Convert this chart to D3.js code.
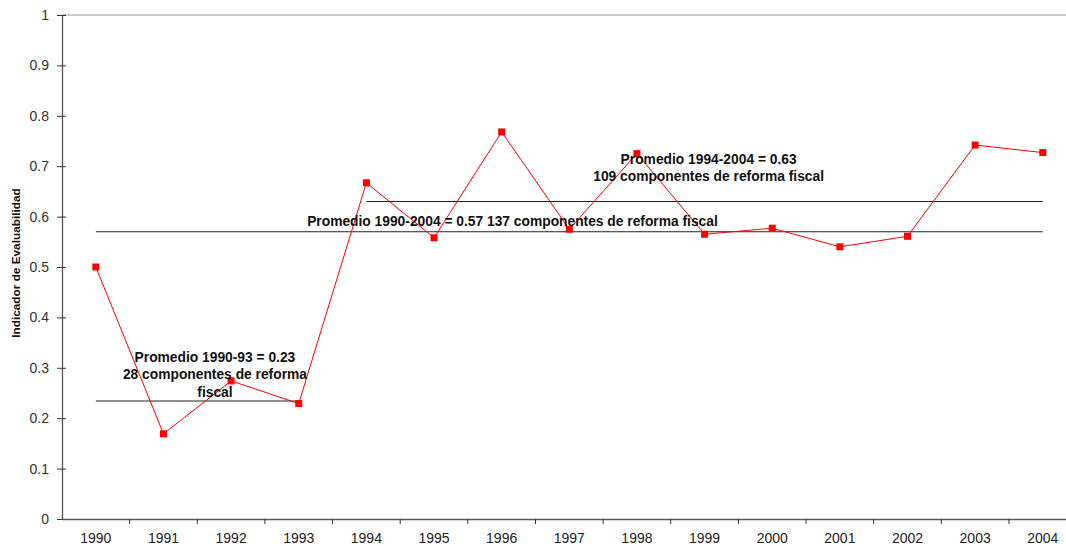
<!DOCTYPE html>
<html>
<head>
<meta charset="utf-8">
<script src="https://cdn.jsdelivr.net/npm/d3@7"></script>
<style>
  html, body { margin: 0; padding: 0; background: #fff; }
  svg { display: block; font-family: "Liberation Sans", Arial, sans-serif; }
</style>
</head>
<body>
<svg id="chart" width="1066" height="546"></svg>
<script>
// Indicador de evaluabilidad por año
const years = ["1990","1991","1992","1993","1994","1995","1996","1997","1998","1999","2000","2001","2002","2003","2004"];
const values = [0.50, 0.169, 0.274, 0.229, 0.667, 0.558, 0.768, 0.575, 0.725, 0.565, 0.577, 0.540, 0.561, 0.742, 0.727];
const yTicks = [0, 0.1, 0.2, 0.3, 0.4, 0.5, 0.6, 0.7, 0.8, 0.9, 1];

// Promedios por periodo
const averages = [
  { from: "1990", to: "1993", value: 0.234, lines: ["Promedio 1990-93 = 0.23", "28 componentes de reforma", "fiscal"], labelAt: 0.587, labelY: 0.312 },
  { from: "1990", to: "2004", value: 0.57, lines: ["Promedio 1990-2004 = 0.57 137 componentes de reforma fiscal"], labelAt: 0.44, labelY: 0.582 },
  { from: "1994", to: "2004", value: 0.63, lines: ["Promedio 1994-2004 = 0.63", "109 componentes de reforma fiscal"], labelAt: 0.506, labelY: 0.705 }
];

const svg = d3.select("#chart");
const plotLeft = 62, plotTop = 15, plotBottom = 519, band = 67.64;

const x = d3.scaleBand().domain(years).range([plotLeft, plotLeft + band * years.length]).paddingInner(0).paddingOuter(0);
const y = d3.scaleLinear().domain([0, 1]).range([plotBottom, plotTop]);
const cx = d => x(d) + x.bandwidth() / 2;

// top border line
svg.append("line")
  .attr("x1", plotLeft).attr("x2", 1066)
  .attr("y1", y(1)).attr("y2", y(1))
  .attr("stroke", "#a0a0a0").attr("stroke-width", 1.2);

// y axis
const yAxis = svg.append("g").attr("transform", `translate(${plotLeft},0)`)
  .call(d3.axisLeft(y).tickValues(yTicks).tickFormat(d3.format("~g")).tickSize(0).tickPadding(13));
yAxis.select(".domain").attr("stroke", "#555").attr("stroke-width", 1.3);
yAxis.selectAll(".tick text").attr("font-size", 14).attr("fill", "#333");
yAxis.selectAll(".tick").append("line").attr("x1", -5).attr("x2", 4).attr("stroke", "#333");

// x axis
const xAxis = svg.append("g").attr("transform", `translate(0,${plotBottom})`)
  .call(d3.axisBottom(x).tickSize(0).tickPadding(14));
xAxis.select(".domain").attr("stroke", "#555").attr("stroke-width", 1.3);
xAxis.selectAll(".tick text").attr("font-size", 14).attr("fill", "#222");
xAxis.selectAll(".boundary").data(years.slice(1)).enter().append("line")
  .attr("x1", d => x(d)).attr("x2", d => x(d))
  .attr("y1", 0).attr("y2", 5).attr("stroke", "#333");

// y axis title
svg.append("text")
  .attr("transform", `translate(20,${(y(0) + y(1)) / 2 - 4}) rotate(-90)`)
  .attr("text-anchor", "middle")
  .attr("font-size", 11.8).attr("font-weight", "bold").attr("fill", "#111")
  .text("Indicador de Evaluabilidad");

// average lines
svg.selectAll(".avg").data(averages).enter().append("line")
  .attr("x1", d => cx(d.from)).attr("x2", d => cx(d.to))
  .attr("y1", d => y(d.value)).attr("y2", d => y(d.value))
  .attr("stroke", "#222").attr("stroke-width", 1.1);

// data line and markers
const line = d3.line().x((d, i) => cx(years[i])).y(d => y(d));
svg.append("path").datum(values)
  .attr("d", line).attr("fill", "none").attr("stroke", "#ff0000").attr("stroke-width", 1);
svg.selectAll(".pt").data(values).enter().append("rect")
  .attr("x", (d, i) => cx(years[i]) - 3.5).attr("y", d => y(d) - 3.5)
  .attr("width", 7).attr("height", 7).attr("fill", "#ff0000");

// average labels
averages.forEach(a => {
  const mid = cx(a.from) + (cx(a.to) - cx(a.from)) * a.labelAt;
  const t = svg.append("text")
    .attr("text-anchor", "middle")
    .attr("font-size", 13.8).attr("font-weight", "bold").attr("fill", "#111");
  a.lines.forEach((s, i) => {
    t.append("tspan").attr("x", mid).attr("y", y(a.labelY) + i * 17.5).text(s);
  });
});
</script>
</body>
</html>
